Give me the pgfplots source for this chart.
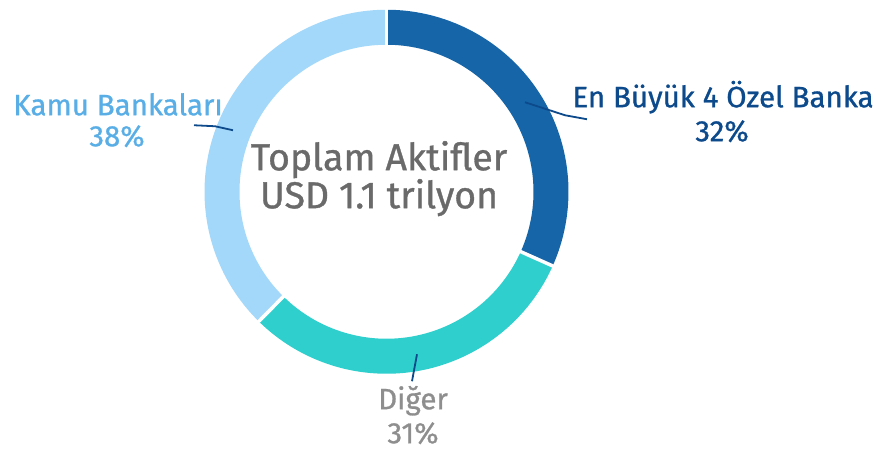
\documentclass[border=0pt]{standalone}
\usepackage{pgfplots}
\usepackage{pgfplotstable}
\pgfplotsset{compat=1.18}
\usepackage{fontspec}
\setmainfont{Fira Sans}[FakeBold=0.9]
\definecolor{segA}{HTML}{1565A8}
\definecolor{segB}{HTML}{2ECFCD}
\definecolor{segC}{HTML}{A3D8FA}
\definecolor{lnavy}{HTML}{0C4A8C}
\definecolor{lkamu}{HTML}{5AAEE6}
\definecolor{ldiger}{HTML}{8E8E8E}
\definecolor{lcentre}{HTML}{6A6A6A}
\pgfplotstableread{
idx value
0 32
1 31
2 38
}\donutdata
\pgfplotstablegetelem{0}{value}\of\donutdata\edef\valA{\pgfplotsretval}
\pgfplotstablegetelem{1}{value}\of\donutdata\edef\valB{\pgfplotsretval}
\pgfplotstablegetelem{2}{value}\of\donutdata\edef\valC{\pgfplotsretval}
\pgfmathsetmacro{\valT}{\valA+\valB+\valC}
\pgfmathsetmacro{\angA}{90}
\pgfmathsetmacro{\angB}{90-360*\valA/\valT}
\pgfmathsetmacro{\angC}{\angB-360*\valB/\valT}
\pgfmathsetmacro{\angD}{-270}
\begin{document}
\begin{tikzpicture}
\begin{axis}[
  width=879pt, height=451pt, scale only axis,
  xmin=0, xmax=879, ymin=0, ymax=451,
  hide axis, clip=false,
]
\path (axis cs:0,0) rectangle (axis cs:879,451);
\coordinate (O) at (axis cs:386.5,266.5);
\fill[segA] ([shift={(\angA:182pt)}]O) arc[start angle=\angA, end angle=\angB, radius=182pt]
   -- ([shift={(\angB:147pt)}]O) arc[start angle=\angB, end angle=\angA, radius=147pt] -- cycle;
\fill[segB] ([shift={(\angB:182pt)}]O) arc[start angle=\angB, end angle=\angC, radius=182pt]
   -- ([shift={(\angC:147pt)}]O) arc[start angle=\angC, end angle=\angB, radius=147pt] -- cycle;
\fill[segC] ([shift={(\angC:182pt)}]O) arc[start angle=\angC, end angle=\angD, radius=182pt]
   -- ([shift={(\angD:147pt)}]O) arc[start angle=\angD, end angle=\angC, radius=147pt] -- cycle;
\draw[white, line width=3.5pt] ([shift={(\angA:140pt)}]O) -- ([shift={(\angA:190pt)}]O);
\draw[white, line width=3.5pt] ([shift={(\angB:140pt)}]O) -- ([shift={(\angB:190pt)}]O);
\draw[white, line width=3.5pt] ([shift={(\angC:140pt)}]O) -- ([shift={(\angC:190pt)}]O);
\draw[lnavy, line width=1.8pt] (axis cs:525,356) -- (axis cs:565,343) -- (axis cs:587,339);
\draw[lnavy, line width=1.8pt] (axis cs:233,328) -- (axis cs:215,332) -- (axis cs:194,333);
\draw[lnavy, line width=1.8pt] (axis cs:417,104) -- (axis cs:412,77);
\node[lnavy, anchor=base, font=\fontsize{29.5}{33}\selectfont] at (axis cs:723,351) {En Büyük 4 Özel Banka};
\node[lnavy, anchor=base, font=\fontsize{29.5}{33}\selectfont] at (axis cs:722,317) {32\%};
\node[lkamu, anchor=base, font=\fontsize{29.5}{33}\selectfont] at (axis cs:118,343) {Kamu Bankaları};
\node[lkamu, anchor=base, font=\fontsize{29.5}{33}\selectfont] at (axis cs:117,312) {38\%};
\node[ldiger, anchor=base, font=\fontsize{29.5}{33}\selectfont] at (axis cs:413,49) {Diğer};
\node[ldiger, anchor=base, font=\fontsize{29.5}{33}\selectfont] at (axis cs:413,15) {31\%};
\node[lcentre, anchor=base, font=\fontsize{37.5}{42}\selectfont] at (axis cs:379,288) {Toplam Aktifler};
\node[lcentre, anchor=base, font=\fontsize{37.5}{42}\selectfont] at (axis cs:379,250) {USD 1.1 trilyon};
\end{axis}
\end{tikzpicture}
\end{document}
